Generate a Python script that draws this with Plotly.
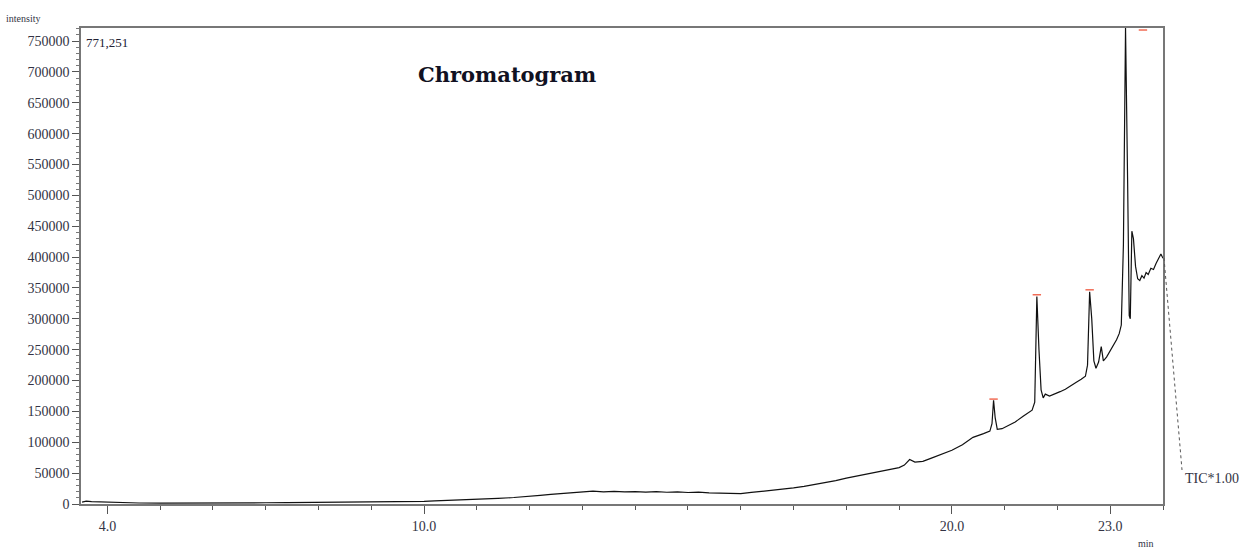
import plotly.graph_objects as go

# Retention time (min) and TIC intensity
rt_min = [3.52, 3.6, 3.7, 3.8, 3.9, 4.0, 4.3, 4.6, 5.0, 5.4, 5.8, 6.2, 6.6, 7.0, 7.4, 7.8,
          8.2, 8.6, 9.0, 9.4, 9.8, 10.0, 10.2, 10.5, 10.8, 11.1, 11.4, 11.7, 12.0, 12.2,
          12.4, 12.6, 12.8, 13.0, 13.2, 13.4, 13.6, 13.8, 14.0, 14.2, 14.4, 14.6, 14.8,
          15.0, 15.2, 15.4, 15.6, 15.8, 16.0, 16.2, 16.4, 16.6, 16.8, 17.0, 17.2, 17.4,
          17.6, 17.8, 18.0, 18.2, 18.4, 18.6, 18.8, 19.0, 19.1, 19.2, 19.3, 19.45, 19.6,
          19.8, 20.0, 20.2, 20.4, 20.6, 20.72, 20.76, 20.79, 20.82, 20.86, 20.95, 21.05,
          21.2, 21.35, 21.45, 21.52, 21.57, 21.61, 21.65, 21.69, 21.73, 21.77, 21.85,
          21.95, 22.05, 22.15, 22.25, 22.35, 22.45, 22.53, 22.57, 22.61, 22.65, 22.69,
          22.73, 22.78, 22.83, 22.87, 22.93, 23.0, 23.07, 23.12, 23.17, 23.21, 23.25,
          23.29, 23.33, 23.36, 23.38, 23.41, 23.44, 23.48, 23.52, 23.56, 23.6, 23.64,
          23.68, 23.72, 23.77, 23.82, 23.87, 23.92, 23.96, 24.0]
tic_intensity = [3000, 4500, 4000, 3800, 2500, 2200, 1800, 1600, 1500, 1400, 1600, 1700, 1900,
                 2000, 2300, 2500, 2800, 3000, 3300, 3600, 4000, 4200, 5000, 5800, 6500, 7500,
                 9000, 10500, 12000, 14000, 15500, 17000, 18500, 19500, 21000, 19800, 20500,
                 19600, 20200, 19400, 20100, 19000, 19800, 18600, 19200, 18000, 17400, 16200,
                 16800, 18800, 20500, 22000, 24500, 26000, 28500, 31500, 35000, 38000, 42000,
                 45500, 49000, 52500, 55000, 59000, 63000, 72000, 68000, 69000, 74000, 80000,
                 87000, 96000, 108000, 114000, 118000, 130000, 168000, 140000, 121000, 122000,
                 126000, 133000, 142000, 148000, 152000, 165000, 336000, 250000, 185000,
                 172000, 178000, 175000, 178000, 182000, 186000, 192000, 197000, 202000,
                 207000, 225000, 344000, 300000, 232000, 220000, 230000, 255000, 232000,
                 238000, 248000, 258000, 266000, 276000, 290000, 420000, 771251, 520000,
                 305000, 300000, 442000, 430000, 385000, 365000, 362000, 370000, 366000,
                 375000, 372000, 382000, 380000, 390000, 400000, 405000, 398000]

# Peak label marks
peak_rt = [20.79, 21.61, 22.61, 23.62]
peak_mark = [170000, 339000, 347000, 768000]

x_tickvals = [4.0, 10.0, 20.0, 23.0]
x_ticktext = ["4.0", "10.0", "20.0", "23.0"]
y_tickvals = list(range(0, 750001, 50000))
y_ticktext = [str(v) for v in y_tickvals]
max_label = "771,251"

fig = go.Figure()
fig.add_trace(go.Scatter(x=rt_min, y=tic_intensity, mode="lines",
                         line=dict(color="#111111", width=1.2), hoverinfo="x+y"))
fig.add_trace(go.Scatter(x=peak_rt, y=peak_mark, mode="markers",
                         marker=dict(symbol="line-ew-open", size=6,
                                     line=dict(color="#c99a7a", width=1.3)),
                         hoverinfo="skip"))

serif = "Liberation Serif"
PH = 476.0  # plot height in px
PW = 1082.0  # plot width in px


def px_x(x):
    return (x - 81) / PW


def px_y(y):
    return (504 - y) / PH


fig.update_layout(
    width=1250, height=549,
    margin=dict(l=81, r=87, t=28, b=45),
    paper_bgcolor="white", plot_bgcolor="white",
    showlegend=False,
    xaxis=dict(range=[3.5, 24.0], tickmode="array", tickvals=x_tickvals, ticktext=x_ticktext,
               ticks="outside", ticklen=8, tickcolor="#555", showgrid=False, zeroline=False,
               showline=True, linecolor="#777", linewidth=1.5, mirror=True,
               tickfont=dict(family=serif, size=14, color="#333344"),
               minor=dict(dtick=1, tick0=0, ticks="outside", ticklen=4, tickcolor="#555")),
    yaxis=dict(range=[0, 771251], tickmode="array", tickvals=y_tickvals, ticktext=y_ticktext,
               ticks="outside", ticklen=7, tickcolor="#555", showgrid=False, zeroline=False,
               showline=True, linecolor="#777", linewidth=1.5, mirror=True,
               tickfont=dict(family=serif, size=14, color="#333344"),
               minor=dict(dtick=10000, ticks="outside", ticklen=3, tickcolor="#777")),
)

fig.add_annotation(text="<b>Chromatogram</b>", xref="paper", yref="paper",
                   x=px_x(507), y=px_y(74), showarrow=False,
                   xanchor="center", yanchor="middle",
                   font=dict(family="DejaVu Serif", size=21, color="#111122"))
fig.add_annotation(text=max_label, xref="paper", yref="paper", x=px_x(84), y=px_y(42),
                   showarrow=False, xanchor="left", yanchor="middle",
                   font=dict(family=serif, size=13, color="#222233"))
fig.add_annotation(text="intensity", xref="paper", yref="paper", x=px_x(4), y=px_y(18),
                   showarrow=False, xanchor="left", yanchor="middle",
                   font=dict(family=serif, size=10, color="#333344"))
fig.add_annotation(text="min", xref="paper", yref="paper", x=px_x(1146), y=px_y(543),
                   showarrow=False, xanchor="center", yanchor="middle",
                   font=dict(family=serif, size=10, color="#333344"))
fig.add_annotation(text="TIC*1.00", xref="paper", yref="paper", x=px_x(1183),
                   y=px_y(478), showarrow=False, xanchor="left", yanchor="middle",
                   font=dict(family=serif, size=14, color="#333344"))
fig.add_shape(type="line", xref="paper", yref="paper",
              x0=px_x(1164), y0=px_y(258), x1=px_x(1182), y1=px_y(470),
              line=dict(color="#555", width=1, dash="dot"))

fig.write_html("out.html")
